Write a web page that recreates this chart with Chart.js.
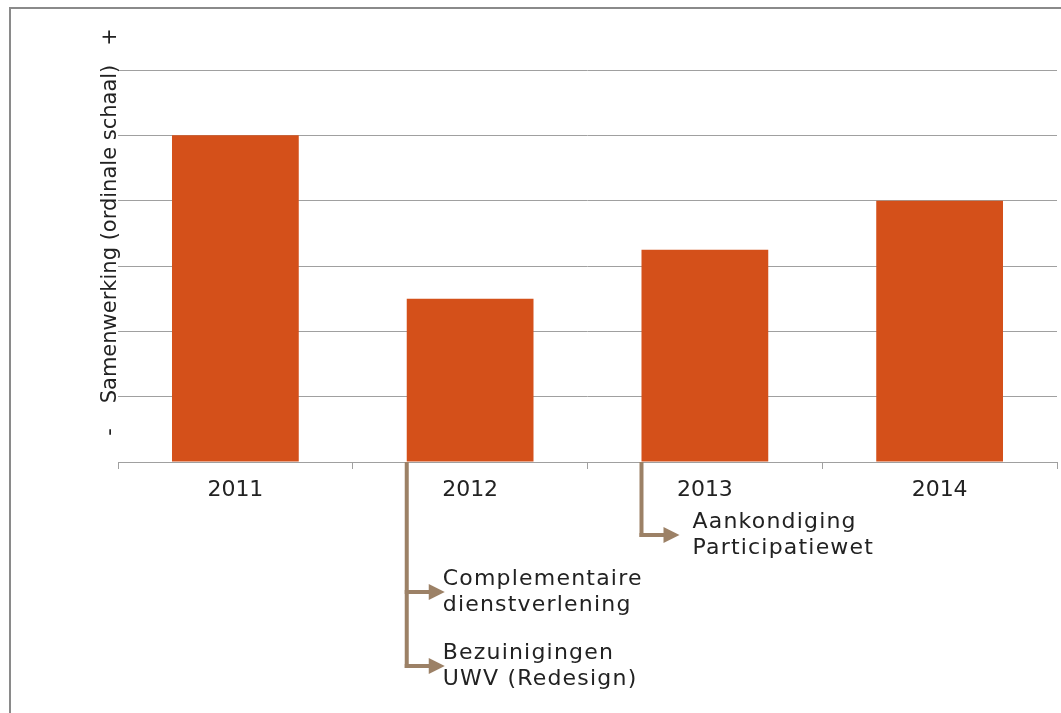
<!DOCTYPE html>
<html>
<head>
<meta charset="utf-8">
<script src="https://cdn.jsdelivr.net/npm/chart.js@4.4.0/dist/chart.umd.min.js"></script>
<style>
  html, body { margin: 0; padding: 0; background: #fff; }
  #wrap { width: 1061px; height: 713px; }
</style>
</head>
<body>
<div id="wrap"><canvas id="chart" width="1061" height="713"></canvas></div>
<script>
// data
const years = ['2011', '2012', '2013', '2014'];
const samenwerking = [5, 2.5, 3.25, 4];
const yTicks = [0, 1, 2, 3, 4, 5, 6];
const eventYears = ['2012', '2012', '2013'];
const eventLabels = [
    ['Complementaire', 'dienstverlening'],
    ['Bezuinigingen', 'UWV (Redesign)'],
    ['Aankondiging', 'Participatiewet']
];
const axisTitle = 'Samenwerking (ordinale schaal)';
const axisLow = '-';
const axisHigh = '+';

const FONT = '"DejaVu Sans", Verdana, sans-serif';
const BROWN = '#9c8166';
const TEXT = '#222';

// frame around the chart (left and top only visible)
const framePlugin = {
    id: 'frame',
    beforeDraw(chart) {
        const ctx = chart.ctx;
        ctx.save();
        ctx.strokeStyle = '#8a8a8a';
        ctx.lineWidth = 2;
        ctx.beginPath();
        ctx.moveTo(10, chart.height);
        ctx.lineTo(10, 8);
        ctx.lineTo(chart.width, 8);
        ctx.stroke();
        ctx.restore();
    }
};

// vertical axis title with - and + markers
const yTitlePlugin = {
    id: 'yTitle',
    afterDraw(chart) {
        const ctx = chart.ctx;
        const area = chart.chartArea;
        ctx.save();
        ctx.fillStyle = TEXT;
        ctx.font = '21px ' + FONT;
        ctx.textBaseline = 'middle';
        ctx.textAlign = 'center';
        ctx.translate(area.left - 7, 0);
        ctx.rotate(-Math.PI / 2);
        ctx.fillText(axisTitle, -(area.top + 164), 0);
        ctx.fillText(axisLow, -(area.bottom - 30), 0);
        ctx.fillText(axisHigh, -(area.top - 33), 0);
        ctx.restore();
    }
};

// event arrows under the x axis
const eventsPlugin = {
    id: 'events',
    afterDraw(chart) {
        const ctx = chart.ctx;
        const meta = chart.getDatasetMeta(0);
        const base = chart.scales.y.getPixelForValue(0);
        const drops = [130, 204, 73];
        const textGap = [-2, -2, 13];
        const deepest = {};
        eventYears.forEach((yr, i) => {
            deepest[yr] = Math.max(deepest[yr] || 0, drops[i]);
        });

        ctx.save();
        ctx.strokeStyle = BROWN;
        ctx.fillStyle = BROWN;
        ctx.lineWidth = 4;

        // vertical stems
        Object.keys(deepest).forEach(yr => {
            const bar = meta.data[years.indexOf(yr)];
            const x = bar.x - bar.width / 2;
            ctx.beginPath();
            ctx.moveTo(x, base);
            ctx.lineTo(x, base + deepest[yr] + 2);
            ctx.stroke();
        });

        // arrows + labels
        eventYears.forEach((yr, i) => {
            const bar = meta.data[years.indexOf(yr)];
            const x = bar.x - bar.width / 2;
            const y = base + drops[i];
            const tip = x + 38;
            ctx.beginPath();
            ctx.moveTo(x - 2, y);
            ctx.lineTo(tip - 12, y);
            ctx.stroke();
            ctx.beginPath();
            ctx.moveTo(tip, y);
            ctx.lineTo(tip - 16, y - 8);
            ctx.lineTo(tip - 16, y + 8);
            ctx.closePath();
            ctx.fill();

            ctx.save();
            ctx.fillStyle = TEXT;
            ctx.font = '22px ' + FONT;
            ctx.letterSpacing = '1.2px';
            ctx.textBaseline = 'middle';
            ctx.textAlign = 'left';
            ctx.fillText(eventLabels[i][0], tip + textGap[i], y - 13);
            ctx.fillText(eventLabels[i][1], tip + textGap[i], y + 13);
            ctx.restore();
        });
        ctx.restore();
    }
};

// grafiek
function drawChart() {
    new Chart(document.getElementById('chart'), {
        type: 'bar',
        data: {
            labels: years,
            datasets: [{
                data: samenwerking,
                backgroundColor: '#d4501a',
                borderWidth: 0,
                categoryPercentage: 1,
                barPercentage: 0.54
            }]
        },
        options: {
            responsive: false,
            animation: false,
            events: [],
            layout: { padding: { left: 118, right: 4, top: 70, bottom: 0 } },
            plugins: {
                legend: { display: false },
                tooltip: { enabled: false }
            },
            scales: {
                x: {
                    grid: {
                        offset: true,
                        drawOnChartArea: false,
                        drawTicks: true,
                        tickLength: 7,
                        color: '#a0a0a0'
                    },
                    border: { display: true, color: '#a0a0a0', width: 1 },
                    ticks: {
                        color: TEXT,
                        font: { family: FONT, size: 22 },
                        padding: 8
                    },
                    afterFit(scale) { scale.height = 713 - 462; }
                },
                y: {
                    min: yTicks[0],
                    max: yTicks[yTicks.length - 1],
                    ticks: { display: false, stepSize: 1 },
                    grid: { color: '#a0a0a0', drawTicks: false },
                    border: { display: false },
                    afterFit(scale) { scale.width = 0; }
                }
            }
        },
        plugins: [framePlugin, yTitlePlugin, eventsPlugin]
    });
}

// wacht op het lettertype, anders tekent canvas met een fallback
Promise.all([
    document.fonts.load('22px "DejaVu Sans"'),
    document.fonts.load('21px "DejaVu Sans"')
]).then(drawChart, drawChart);
</script>
</body>
</html>
